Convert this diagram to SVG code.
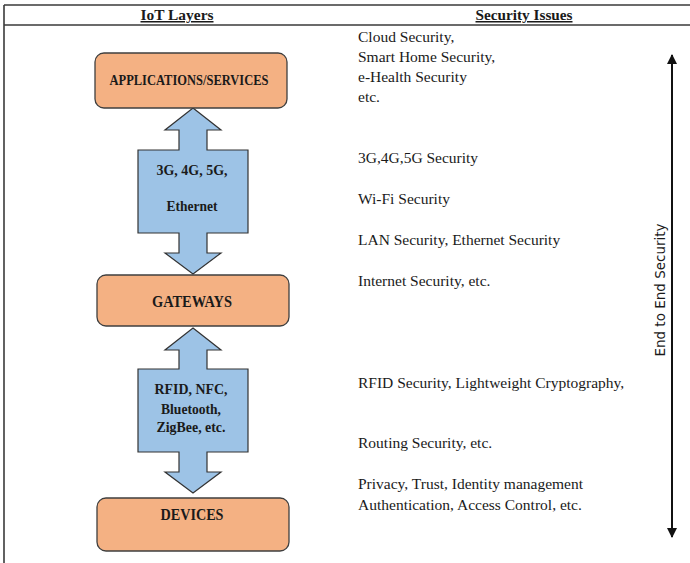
<svg xmlns="http://www.w3.org/2000/svg" width="690" height="563" viewBox="0 0 690 563">
<style>
.frame{stroke:#3a3a3a;stroke-width:1.6;fill:none}
.box{fill:#F4B183;stroke:#3f3f3f;stroke-width:1.3}
.arr{fill:#9DC3E6;stroke:#333;stroke-width:1.2}
.lbl{font-family:"Liberation Serif",serif;font-weight:bold;fill:#1a1a1a;text-anchor:middle}
.hdr{font-family:"Liberation Serif",serif;font-weight:bold;font-size:15px;fill:#1a1a1a;text-anchor:middle;text-decoration:underline}
.iss{font-family:"Liberation Serif",serif;font-size:15.5px;fill:#1a1a1a}
.e2e{font-family:"DejaVu Sans",sans-serif;font-size:13.5px;fill:#1a1a1a;text-anchor:middle}
</style>
<defs>
<marker id="ah" viewBox="0 0 10 10" refX="9" refY="5" markerWidth="5" markerHeight="5" orient="auto-start-reverse" markerUnits="strokeWidth">
<path d="M0,0 L10,5 L0,10 z" fill="#111"/>
</marker>
</defs>
<rect width="690" height="563" fill="#fff"/>
<g id="frame">
<line class="frame" x1="4" y1="5" x2="690" y2="5"/>
<line class="frame" x1="4" y1="25" x2="690" y2="25"/>
<line class="frame" x1="4" y1="5" x2="4" y2="563"/>
<text class="hdr" x="177" y="20" textLength="73" lengthAdjust="spacingAndGlyphs">IoT Layers</text>
<text class="hdr" x="524" y="20" textLength="97" lengthAdjust="spacingAndGlyphs">Security Issues</text>
</g>
<g id="connectors">
<path id="link1" class="arr" d="M193,108 L221,130 L207,130 L207,150 L248,150 L248,233 L207,233 L207,253 L221,253 L193,274 L165,253 L179,253 L179,233 L138,233 L138,150 L179,150 L179,130 L165,130 Z"/>
<text class="lbl" font-size="15" x="192" y="175" textLength="71" lengthAdjust="spacingAndGlyphs">3G, 4G, 5G,</text>
<text class="lbl" font-size="15" x="192" y="211" textLength="51" lengthAdjust="spacingAndGlyphs">Ethernet</text>
<path id="link2" class="arr" d="M193,328 L221,350 L207,350 L207,369 L248,369 L248,452 L207,452 L207,472 L221,472 L193,493 L165,472 L179,472 L179,452 L138,452 L138,369 L179,369 L179,350 L165,350 Z"/>
<text class="lbl" font-size="15" x="191" y="394" textLength="73" lengthAdjust="spacingAndGlyphs">RFID, NFC,</text>
<text class="lbl" font-size="15" x="191" y="414" textLength="60" lengthAdjust="spacingAndGlyphs">Bluetooth,</text>
<text class="lbl" font-size="15" x="191" y="432" textLength="69" lengthAdjust="spacingAndGlyphs">ZigBee, etc.</text>
<line id="e2e" x1="672" y1="55" x2="672" y2="537" stroke="#111" stroke-width="2" marker-start="url(#ah)" marker-end="url(#ah)"/>
<text class="e2e" transform="translate(665,290) rotate(-90)">End to End Security</text>
</g>
<g id="applications">
<rect class="box" x="95" y="53" width="192" height="55" rx="9"/>
<text class="lbl" font-size="14.5" x="189" y="85" textLength="159" lengthAdjust="spacingAndGlyphs">APPLICATIONS/SERVICES</text>
</g>
<g id="gateways">
<rect class="box" x="97" y="275" width="192" height="51" rx="9"/>
<text class="lbl" font-size="16" x="192" y="307" textLength="80" lengthAdjust="spacingAndGlyphs">GATEWAYS</text>
</g>
<g id="devices">
<rect class="box" x="97" y="498" width="192" height="53" rx="9"/>
<text class="lbl" font-size="16" x="192" y="520" textLength="63" lengthAdjust="spacingAndGlyphs">DEVICES</text>
</g>
<g id="issues">
<text class="iss" x="358" y="42">Cloud Security,</text>
<text class="iss" x="358" y="62">Smart Home Security,</text>
<text class="iss" x="358" y="82">e-Health Security</text>
<text class="iss" x="358" y="102">etc.</text>
<text class="iss" x="358" y="163">3G,4G,5G Security</text>
<text class="iss" x="358" y="204">Wi-Fi Security</text>
<text class="iss" x="358" y="245">LAN Security, Ethernet Security</text>
<text class="iss" x="358" y="286">Internet Security, etc.</text>
<text class="iss" x="358" y="388">RFID Security, Lightweight Cryptography,</text>
<text class="iss" x="358" y="448">Routing Security, etc.</text>
<text class="iss" x="358" y="489">Privacy, Trust, Identity management</text>
<text class="iss" x="358" y="510">Authentication, Access Control, etc.</text>
</g>
</svg>
